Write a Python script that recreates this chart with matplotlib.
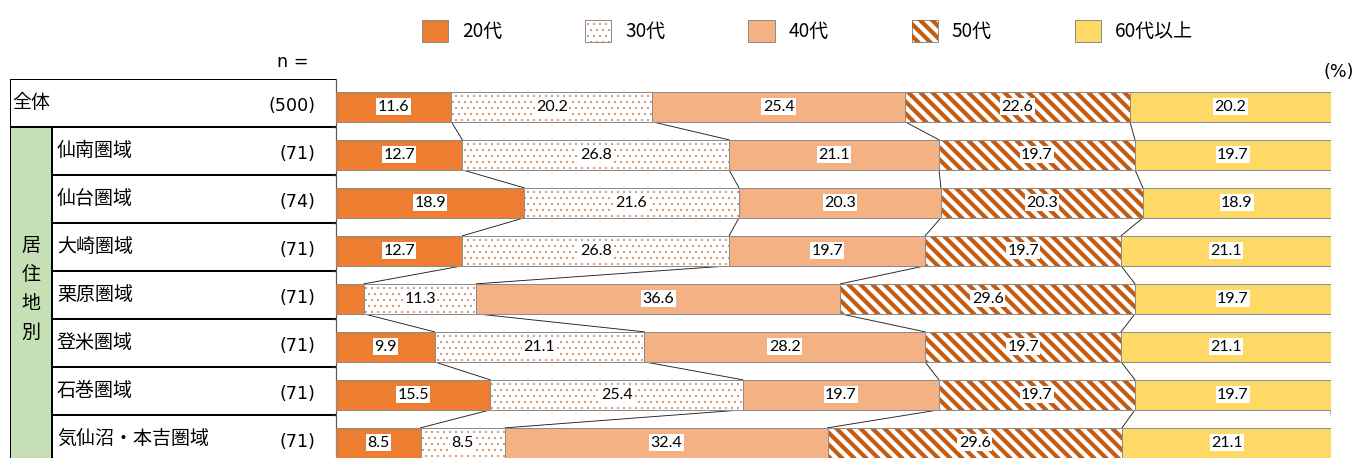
import numpy as np
import matplotlib
matplotlib.use('Agg')
import matplotlib.pyplot as plt
from matplotlib.patches import Patch, Rectangle

plt.rcParams['font.family'] = ['Noto Sans CJK JP', 'DejaVu Sans']

# data
regions = ['全体', '仙南圏域', '仙台圏域', '大崎圏域', '栗原圏域', '登米圏域', '石巻圏域', '気仙沼・本吉圏域']
counts = [500, 71, 74, 71, 71, 71, 71, 71]
ages = ['20代', '30代', '40代', '50代', '60代以上']
group_label = '居住地別'

age20 = [11.6, 12.7, 18.9, 12.7, 2.8, 9.9, 15.5, 8.5]
age30 = [20.2, 26.8, 21.6, 26.8, 11.3, 21.1, 25.4, 8.5]
age40 = [25.4, 21.1, 20.3, 19.7, 36.6, 28.2, 19.7, 32.4]
age50 = [22.6, 19.7, 20.3, 19.7, 29.6, 19.7, 19.7, 29.6]
age60 = [20.2, 19.7, 18.9, 21.1, 19.7, 21.1, 19.7, 21.1]
series = [age20, age30, age40, age50, age60]

# styles
faces = ['#ED7D31', 'white', '#F4B183', 'white', '#FFD966']
hatches = [None, '..', None, '\\\\', None]
hatch_lw = {'..': 0.7, '\\\\': 4.2}
hatch_cols = {'..': '#CD7D4A', '\\\\': '#C55A11'}
edge_col = '#8C8C8C'

W, H = 1362, 458
fig = plt.figure(figsize=(W / 72, H / 72), dpi=72)

# main plot area (px -> figure fraction)
top_px, row_px = 79, 48
nrows = len(regions)
bot_px = top_px + nrows * row_px
ax = fig.add_axes([336 / W, (H - bot_px) / H, 995 / W, nrows * row_px / H])
tab = fig.add_axes([10 / W, (H - bot_px) / H, 326 / W, nrows * row_px / H], zorder=-1)

bh = 0.625
ypos = np.arange(nrows) + 0.58

left = np.zeros(nrows)
for vals, face, hatch in zip(series, faces, hatches):
    vals = np.array(vals)
    ax.barh(ypos, vals, height=bh, left=left, color=face, linewidth=0, zorder=2)
    if hatch:
        with plt.rc_context({'hatch.linewidth': hatch_lw[hatch]}):
            hb = ax.barh(ypos, vals, height=bh, left=left, facecolor='none',
                         edgecolor=hatch_cols[hatch], linewidth=0, hatch=hatch, zorder=3)
        for p in hb:
            if hasattr(p, 'set_hatch_linewidth'):
                p.set_hatch_linewidth(hatch_lw[hatch])
    ax.barh(ypos, vals, height=bh, left=left, facecolor='none',
            edgecolor=edge_col, linewidth=1.0, zorder=4)
    for y, l, v in zip(ypos, left, vals):
        if v >= 5:
            ax.text(l + v / 2, y, f'{v:.1f}', ha='center', va='center',
                    fontsize=16, family='Lato', zorder=6,
                    bbox=dict(facecolor='white', edgecolor='none', pad=1.5))
    left = left + vals

# series lines between rows
cum = np.cumsum(np.array(series), axis=0)
for k in range(len(series)):
    for i in range(nrows - 1):
        ax.plot([cum[k, i], cum[k, i + 1]], [ypos[i] + bh / 2, ypos[i + 1] - bh / 2],
                color='#202020', linewidth=0.9, zorder=1)

ax.set_xlim(0, 100)
ax.set_ylim(nrows, 0)
ax.set_yticks(np.arange(1, nrows + 1))
ax.set_yticklabels([])
ax.tick_params(axis='y', length=5, width=1.2, color='#202020', direction='out')
ax.set_xticks([])
for s in ['top', 'right', 'bottom']:
    ax.spines[s].set_visible(False)
ax.spines['left'].set_color('#595959')
ax.spines['left'].set_linewidth(1.2)
ax.patch.set_alpha(0)

# left table
tab.set_xlim(0, 326)
tab.set_ylim(nrows, 0)
tab.axis('off')
tab.add_patch(Rectangle((0, 1), 42, nrows - 1, facecolor='#C5E0B4', edgecolor='none'))
tab.plot([0, 330], [0, 0], color='black', lw=2)
tab.plot([0, 330], [1, 1], color='black', lw=2)
for r in range(2, nrows + 1):
    tab.plot([42, 330], [r, r], color='black', lw=2)
tab.plot([0, 0], [0, nrows], color='black', lw=2)
tab.plot([42, 42], [1, nrows], color='black', lw=2)

for i, (name, n) in enumerate(zip(regions, counts)):
    x0 = 2 if i == 0 else 47
    tab.text(x0, i + 0.49, name, ha='left', va='center', fontsize=19)
    tab.text(305, i + 0.57, f'({n})', ha='right', va='center', fontsize=17.5,
             family='DejaVu Sans')
tab.text(21, 1 + (nrows - 1) / 2 - 0.12, '\n'.join(group_label), ha='center', va='center',
         fontsize=19, linespacing=1.5)

fig.text(293 / W, 1 - 62 / H, 'n =', ha='center', va='center', fontsize=17.5,
         family='DejaVu Sans')
fig.text(1339 / W, 1 - 72 / H, '(%)', ha='center', va='center', fontsize=17.5,
         family='DejaVu Sans')

# legend
handles = []
for face, hatch in zip(faces, hatches):
    base = Patch(facecolor=face, edgecolor=edge_col, linewidth=1.0)
    if hatch:
        over = Patch(facecolor='none', edgecolor=hatch_cols[hatch], linewidth=0, hatch=hatch)
        handles.append((base, over))
    else:
        handles.append(base)
leg = fig.legend(handles, ages, loc='center left', bbox_to_anchor=(422 / W, 1 - 31 / H),
                 ncol=5, frameon=False, fontsize=19, handlelength=1.37, handleheight=1.37,
                 handletextpad=0.74, columnspacing=4.37, borderpad=0, borderaxespad=0)
for a in leg.findobj(Rectangle):
    h = a.get_hatch()
    if h in hatch_lw and hasattr(a, 'set_hatch_linewidth'):
        a.set_hatch_linewidth(hatch_lw[h])

fig.savefig('out.png', dpi=72)
